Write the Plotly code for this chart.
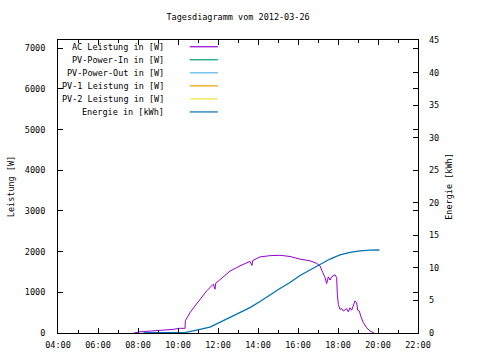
import plotly.graph_objects as go

DAY = "2012-03-26 "
ac_times = ["07:48", "08:06", "08:41", "09:21", "09:46", "10:04", "10:21", "10:22", "10:36", "10:51",
            "11:06", "11:26", "11:46", "11:51", "11:53", "12:06", "12:20", "12:36", "13:06", "13:36",
            "13:42", "13:44", "14:06", "14:36", "15:06", "15:36", "16:06", "16:36", "16:56", "17:06",
            "17:14", "17:21", "17:26", "17:31", "17:36", "17:41", "17:51", "17:56", "17:58", "18:01",
            "18:06", "18:11", "18:16", "18:26", "18:31", "18:36", "18:41", "18:51", "18:56", "18:59",
            "19:04", "19:08", "19:16", "19:26", "19:36", "19:48"]
ac_values = [0, 30, 50, 65, 90, 115, 115, 300, 500, 665,
             830, 1035, 1200, 1075, 1220, 1310, 1400, 1520, 1650, 1760,
             1660, 1780, 1870, 1900, 1910, 1880, 1815, 1775, 1710, 1650,
             1490, 1365, 1215, 1380, 1300, 1380, 1430, 1365, 950, 700,
             580, 600, 540, 600, 520, 620, 560, 790, 740, 560,
             540, 420, 255, 130, 50, 0]

en_times = ["08:16", "08:30", "10:21", "10:36", "11:06", "11:36", "12:06", "12:36", "13:06", "13:36",
            "14:06", "14:36", "15:06", "15:36", "16:06", "16:36", "17:06", "17:36", "18:06", "18:36",
            "19:06", "19:36", "20:04"]
en_values = [0, 0.05, 0.07, 0.2, 0.57, 0.92, 1.65, 2.36, 3.13, 3.9,
             4.83, 5.86, 6.83, 7.75, 8.84, 9.68, 10.5, 11.36, 12.0, 12.37,
             12.6, 12.74, 12.75]

legend_labels = ["AC Leistung in [W]", "PV-Power-In in [W]", "PV-Power-Out in [W]",
                 "PV-1 Leistung in [W]", "PV-2 Leistung in [W]", "Energie in [kWh]"]
legend_colors = ["#9400D3", "#009E73", "#56B4E9", "#E69F00", "#F0E442", "#0072B2"]

FONT = "DejaVu Sans Mono"

fig = go.Figure()
fig.add_trace(go.Scatter(x=[DAY + t for t in ac_times], y=ac_values, mode="lines",
                         line=dict(color=legend_colors[0], width=1), showlegend=False))
fig.add_trace(go.Scatter(x=[DAY + t for t in en_times], y=en_values, mode="lines", yaxis="y2",
                         line=dict(color=legend_colors[5], width=1.3), showlegend=False))

# custom gnuplot-style legend (text right-aligned, sample line to the right)
for i, (lab, col) in enumerate(zip(legend_labels, legend_colors)):
    yy = 0.977 - i * 0.0445
    fig.add_annotation(text=lab, xref="paper", yref="paper", x=0.30, y=yy,
                       xanchor="right", yanchor="middle", showarrow=False,
                       font=dict(family=FONT, size=8.5, color="black"))
    fig.add_shape(type="line", xref="paper", yref="paper", x0=0.366, x1=0.444, y0=yy, y1=yy,
                  line=dict(color=col, width=1.2))

fig.update_layout(
    width=480, height=360,
    margin=dict(l=58, r=62, t=40, b=27, autoexpand=False),
    paper_bgcolor="white", plot_bgcolor="white",
    font=dict(family=FONT, size=8.5, color="black"),
    title=dict(text="Tagesdiagramm vom 2012-03-26", x=0.496, xanchor="center", y=0.953,
               yanchor="middle", font=dict(family=FONT, size=8.5, color="black"),
               automargin=False),
    xaxis=dict(type="date", range=[DAY + "04:00", DAY + "22:00"], tickformat="%H:%M",
               dtick=2 * 3600000, tick0=DAY + "04:00", ticks="inside", ticklen=5,
               showgrid=False, zeroline=False, showline=True, linecolor="black", linewidth=1,
               mirror="ticks", tickcolor="black", automargin=False, ticklabelstandoff=4,
               minor=dict(dtick=3600000, ticks="inside", ticklen=3, tickcolor="black", showgrid=False)),
    yaxis=dict(range=[0, 7200], dtick=1000, ticks="inside", ticklen=5, showgrid=False,
               zeroline=False, showline=True, linecolor="black", linewidth=1, mirror="ticks",
               tickcolor="black", ticklabelstandoff=10, automargin=False,
               title=dict(text="Leistung [W]", standoff=8, font=dict(family=FONT, size=8.5))),
    yaxis2=dict(range=[0, 45], dtick=5, overlaying="y", side="right", ticks="inside", ticklen=5,
                showgrid=False, zeroline=False, showline=False, tickcolor="black",
                ticklabelstandoff=10, automargin=False,
                title=dict(text="Energie [kWh]", standoff=7, font=dict(family=FONT, size=8.5))),
)

fig.write_html("out.html", config={"displayModeBar": False},
               post_script="document.body.style.margin='0';")
